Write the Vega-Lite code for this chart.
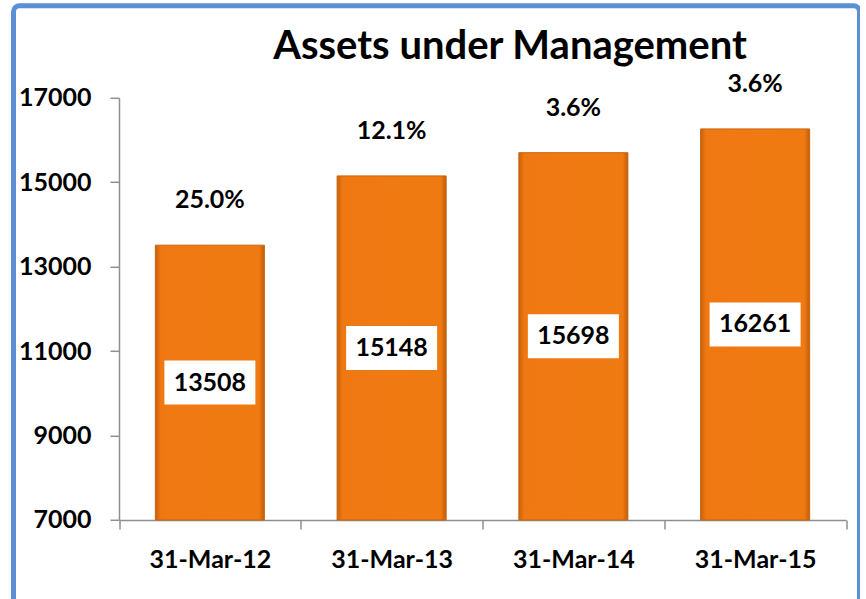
{
  "$schema": "https://vega.github.io/schema/vega-lite/v6.json",
  "width": 846,
  "height": 600,
  "autosize": {"type": "none"},
  "padding": {"left": 13.5, "top": 5.8, "right": 0, "bottom": 0},
  "background": "white",
  "title": {
    "text": "Assets under Management",
    "font": "Lato",
    "fontSize": 40,
    "fontWeight": "bold",
    "color": "black",
    "anchor": "middle",
    "frame": "group",
    "baseline": "alphabetic",
    "offset": 0,
    "dx": 73.5,
    "dy": 93
  },
  "data": {
    "values": [
      {"date": "31-Mar-12", "aum": 13508, "growth": 0.25},
      {"date": "31-Mar-13", "aum": 15148, "growth": 0.121},
      {"date": "31-Mar-14", "aum": 15698, "growth": 0.036},
      {"date": "31-Mar-15", "aum": 16261, "growth": 0.036}
    ]
  },
  "encoding": {
    "x": {
      "field": "date",
      "type": "nominal",
      "sort": null,
      "scale": {"type": "band", "range": [105.5, 832.5], "paddingInner": 0, "paddingOuter": 0},
      "axis": {
        "title": null,
        "orient": "bottom",
        "offset": -85.8,
        "labelAngle": 0,
        "labelFont": "Lato",
        "labelFontSize": 25,
        "labelFontWeight": "bold",
        "labelColor": "black",
        "labelPadding": 19,
        "tickSize": 9,
        "tickColor": "#8f8f8f",
        "tickWidth": 1.5,
        "domainColor": "#8f8f8f",
        "domainWidth": 1.5,
        "tickBand": "extent",
        "grid": false
      }
    }
  },
  "layer": [
    {
      "mark": {
        "type": "bar",
        "width": {"band": 0.6},
        "color": {
          "gradient": "linear",
          "x1": 0, "x2": 1, "y1": 0, "y2": 0,
          "stops": [
            {"offset": 0, "color": "#C8620C"},
            {"offset": 0.05, "color": "#EF7812"},
            {"offset": 0.95, "color": "#F07A12"},
            {"offset": 1, "color": "#BF5E0B"}
          ]
        },
        "stroke": "#C6650F",
        "strokeWidth": 1
      },
      "encoding": {
        "y": {
          "field": "aum",
          "type": "quantitative",
          "scale": {"domain": [7000, 17000], "range": [514.2, 91.9], "zero": false, "nice": false},
          "axis": {
            "title": null,
            "orient": "left",
            "offset": -105.5,
            "values": [7000, 9000, 11000, 13000, 15000, 17000],
            "format": "d",
            "labelFont": "Lato",
            "labelFontSize": 25,
            "labelFontWeight": "bold",
            "labelColor": "black",
            "labelPadding": 19,
            "tickSize": 9,
            "tickColor": "#8f8f8f",
            "tickWidth": 1.5,
            "domainColor": "#8f8f8f",
            "domainWidth": 1.5,
            "grid": false
          }
        },
        "y2": {"datum": 7000}
      }
    },
    {
      "mark": {
        "type": "point",
        "shape": "M-1,-0.4835L1,-0.4835L1,0.4835L-1,0.4835Z",
        "size": 8281,
        "filled": true,
        "fill": "white",
        "opacity": 1,
        "strokeWidth": 0
      },
      "encoding": {
        "y": {
          "field": "aum",
          "type": "quantitative",
          "scale": {"domain": [7000, 27000], "range": [514.2, 91.9], "zero": false, "nice": false},
          "axis": null
        }
      }
    },
    {
      "mark": {
        "type": "text",
        "font": "Lato",
        "fontSize": 25,
        "fontWeight": "bold",
        "color": "black",
        "baseline": "middle",
        "align": "center"
      },
      "encoding": {
        "y": {
          "field": "aum",
          "type": "quantitative",
          "scale": {"domain": [7000, 27000], "range": [514.2, 91.9], "zero": false, "nice": false},
          "axis": null
        },
        "text": {"field": "aum", "type": "quantitative", "format": "d"}
      }
    },
    {
      "mark": {
        "type": "text",
        "font": "Lato",
        "fontSize": 25,
        "fontWeight": "bold",
        "color": "black",
        "baseline": "middle",
        "align": "center",
        "dy": -45
      },
      "encoding": {
        "y": {
          "field": "aum",
          "type": "quantitative",
          "scale": {"domain": [7000, 17000], "range": [514.2, 91.9], "zero": false, "nice": false},
          "axis": null
        },
        "text": {"field": "growth", "type": "quantitative", "format": ".1%"}
      }
    }
  ],
  "resolve": {"scale": {"y": "independent"}},
  "config": {
    "view": {"stroke": "#5B8FD6", "strokeWidth": 5, "cornerRadius": 6, "fill": "white"}
  }
}
